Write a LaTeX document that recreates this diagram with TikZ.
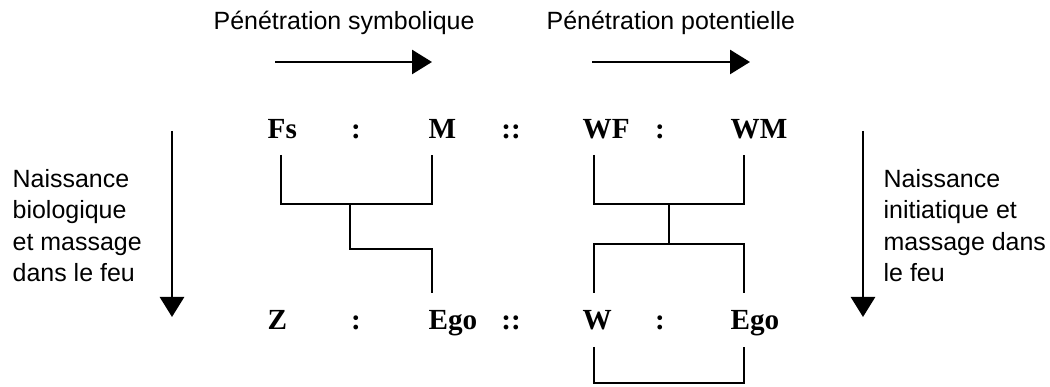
\documentclass[tikz,border=0pt]{standalone}
\usepackage{fontspec}
\setmainfont{Liberation Serif}
\newfontfamily\notefont{Liberation Sans}
\usetikzlibrary{arrows.meta,positioning,calc}

\begin{document}
\begin{tikzpicture}[>=Latex,
 term/.style={inner sep=0pt,anchor=base west,font=\fontsize{8.3}{10}\selectfont\bfseries},
 sep/.style={inner sep=0pt,anchor=base,font=\fontsize{8.3}{10}\selectfont\bfseries},
 note/.style={inner sep=0pt,anchor=base west,align=left,font=\notefont\fontsize{7.1}{9.0}\selectfont},
 link/.style={line width=0.68pt},
 a/.style={-{Triangle[length=2.0mm,width=2.4mm]},line width=0.8pt}]
\useasboundingbox (0,0) rectangle (10.5,3.87);

% labels above and beside (base = last line)
\node[note] (sym) at (2.13,3.57) {Pénétration symbolique};
\node[note] (pot) at (5.46,3.57) {Pénétration potentielle};
\node[note] (bio) at (0.12,1.05) {Naissance\\biologique\\et massage\\dans le feu};
\node[note] (ini) at (8.83,1.05) {Naissance\\initiatique et\\massage dans\\le feu};

\coordinate (sA) at (2.75,3.25); \coordinate (sB) at (4.32,3.25);
\coordinate (pA) at (5.92,3.25); \coordinate (pB) at (7.50,3.25);
\coordinate (bA) at (1.72,2.56); \coordinate (bB) at (1.72,0.70);
\coordinate (iA) at (8.63,2.56); \coordinate (iB) at (8.63,0.70);
\draw[a] (sA)--(sB); \draw[a] (pA)--(pB);
\draw[a] (bA)--(bB); \draw[a] (iA)--(iB);

% the two rows
\node[term] (fs) at (2.67,2.48) {Fs};
\node[sep] at (3.56,2.48) {:};
\node[term] (m) at (4.28,2.48) {M};
\node[sep] at (5.11,2.48) {::};
\node[term] (wf) at (5.82,2.48) {WF};
\node[sep] at (6.60,2.48) {:};
\node[term] (wm) at (7.30,2.48) {WM};

\node[term] (z) at (2.67,0.57) {Z};
\node[sep] at (3.56,0.57) {:};
\node[term] (ego) at (4.28,0.57) {Ego};
\node[sep] at (5.11,0.57) {::};
\node[term] (w) at (5.82,0.57) {W};
\node[sep] at (6.60,0.57) {:};
\node[term] (egoB) at (7.30,0.57) {Ego};

% brackets
\coordinate (fsD) at (2.81,2.32); \coordinate (mD) at (4.32,2.32);
\coordinate (wfD) at (5.94,2.32); \coordinate (wmD) at (7.44,2.32);
\coordinate (lj) at (3.50,1.83); \coordinate (rj) at (6.69,1.83);
\coordinate (egoU) at (4.32,0.94);
\coordinate (wU) at (5.94,0.94); \coordinate (egoBU) at (7.44,0.94);
\coordinate (wL) at (5.94,0.40); \coordinate (egoBL) at (7.44,0.40);
\draw[link] (fsD) -- ++(0,-0.49) -| (mD);
\draw[link] (lj) -- ++(0,-0.45) -| (egoU);
\draw[link] (wfD) -- ++(0,-0.49) -| (wmD);
\draw[link] (rj) -- ++(0,-0.40);
\draw[link] (wU) -- ++(0,0.49) -| (egoBU);
\draw[link] (wL) -- ++(0,-0.36) -| (egoBL);
\end{tikzpicture}
\end{document}
